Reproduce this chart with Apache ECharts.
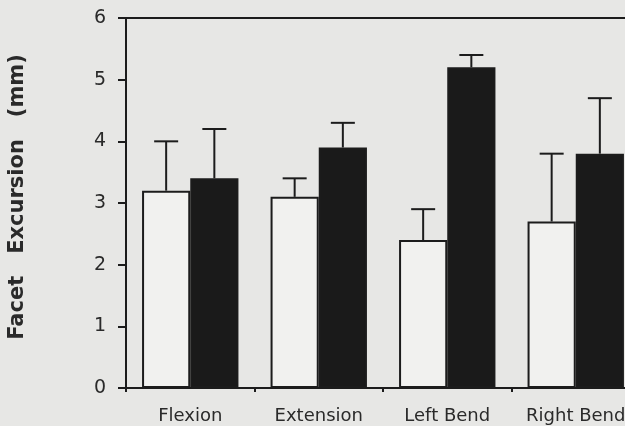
<!DOCTYPE html>
<html>
<head>
<meta charset="utf-8">
<script src="https://cdn.jsdelivr.net/npm/echarts@6/dist/echarts.min.js"></script>
<style>
  html, body { margin: 0; padding: 0; background: #e7e7e5; }
  #chart { width: 625px; height: 426px; }
</style>
</head>
<body>
<div id="chart"></div>
<script>
// movements
const categories = ['Flexion', 'Extension', 'Left Bend', 'Right Bend'];
// open bars (mean, upper error)
const openMean = [3.2, 3.1, 2.4, 2.7];
const openTop = [4.0, 3.4, 2.9, 3.8];
// filled bars
const filledMean = [3.4, 3.9, 5.2, 3.8];
const filledTop = [4.2, 4.3, 5.4, 4.7];

const ink = '#1c1c1c';
const barPct = 0.375;

function errorSeries(means, tops, side) {
  return {
    type: 'custom',
    z: 5,
    data: means.map((m, i) => [i, m, tops[i]]),
    renderItem: function (params, api) {
      const catW = api.size([1, 0])[0];
      const off = side * catW * barPct / 2;
      const lo = api.coord([api.value(0), api.value(1)]);
      const hi = api.coord([api.value(0), api.value(2)]);
      const x = lo[0] + off;
      const cap = 12;
      const st = { stroke: ink, lineWidth: 2 };
      return {
        type: 'group',
        children: [
          { type: 'line', shape: { x1: x, y1: lo[1], x2: x, y2: hi[1] }, style: st },
          { type: 'line', shape: { x1: x - cap, y1: hi[1], x2: x + cap, y2: hi[1] }, style: st }
        ]
      };
    }
  };
}

const chart = echarts.init(document.getElementById('chart'));
chart.setOption({
  backgroundColor: '#e7e7e5',
  animation: false,
  textStyle: { fontFamily: 'DejaVu Sans', color: '#2a2a2a' },
  grid: {
    left: 126, top: 18, width: 514, bottom: 38,
    outerBoundsMode: 'none',
    show: true, borderColor: ink, borderWidth: 2, backgroundColor: 'transparent'
  },
  xAxis: {
    type: 'category',
    data: categories,
    axisLine: { lineStyle: { color: ink, width: 2 } },
    axisTick: { show: true, interval: 0, length: 4, lineStyle: { color: ink, width: 2 } },
    axisLabel: { interval: 0, hideOverlap: false, fontSize: 18, color: '#2a2a2a', margin: 19 }
  },
  yAxis: {
    type: 'value',
    min: 0, max: 6, interval: 1,
    name: 'Facet   Excursion   (mm)',
    nameLocation: 'middle',
    nameRotate: 90,
    nameGap: 98,
    nameTextStyle: { fontSize: 21, fontWeight: 'bold', color: '#2a2a2a', padding: [0, 0, 0, 12] },
    axisLine: { show: true, lineStyle: { color: ink, width: 2 } },
    axisTick: { show: true, length: 8, lineStyle: { color: ink, width: 2 } },
    axisLabel: { fontSize: 19, color: '#2a2a2a', margin: 20 },
    splitLine: { show: false }
  },
  series: [
    {
      type: 'bar',
      data: openMean,
      barWidth: '37.5%',
      barGap: '0%',
      itemStyle: { color: '#f1f1ef', borderColor: ink, borderWidth: 2 }
    },
    {
      type: 'bar',
      data: filledMean,
      barWidth: '37.5%',
      barGap: '0%',
      itemStyle: { color: '#1a1a1a', borderColor: ink, borderWidth: 2 }
    },
    errorSeries(openMean, openTop, -1),
    errorSeries(filledMean, filledTop, 1)
  ]
});
</script>
</body>
</html>
